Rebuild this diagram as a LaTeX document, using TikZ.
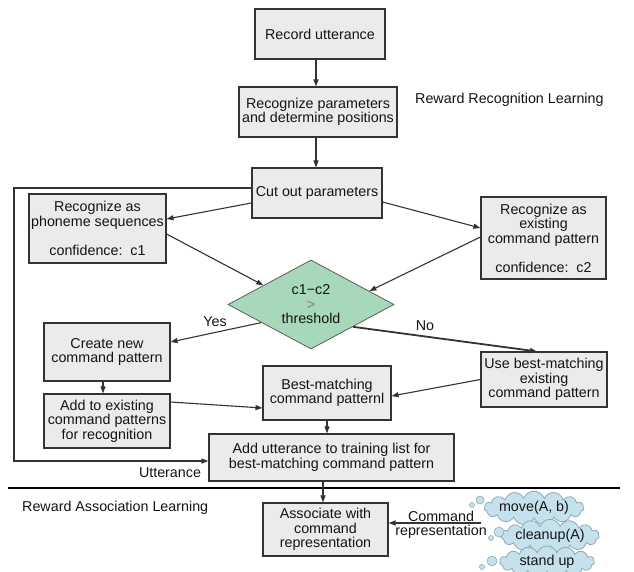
\documentclass[tikz,border=0pt]{standalone}
\usepackage{fontspec}
\setmainfont{Liberation Sans}
\usetikzlibrary{shapes.geometric,shapes.symbols,arrows.meta}
\definecolor{boxfill}{HTML}{EBEBEB}
\definecolor{linec}{HTML}{333333}
\definecolor{txtc}{HTML}{141414}
\definecolor{diafill}{HTML}{A8D8BA}
\definecolor{cloudfill}{HTML}{C5E2EC}
\definecolor{cloudline}{HTML}{8FA9B3}
\begin{document}
\begin{tikzpicture}[x=1pt,y=-1pt,
  font=\fontsize{14.3}{14.5}\selectfont, text=txtc,
  box/.style={draw=linec, fill=boxfill, line width=1.1pt, align=center, inner sep=0pt},
  arr/.style={-{Triangle[length=7pt,width=5pt]}, line width=1.1pt, draw=linec},
  lbl/.style={inner sep=0pt},
  cloudnode/.style={cloud, cloud puffs=15, cloud puff arc=140, aspect=5, draw=cloudline, fill=cloudfill, line width=0.8pt, inner sep=0pt, minimum width=94pt, minimum height=20pt},
  bubble/.style={circle, draw=cloudline, fill=cloudfill, line width=0.6pt, inner sep=0pt}]
\useasboundingbox (0,0) rectangle (634,572);

% boxes
\node[box, minimum width=130pt, minimum height=50pt] (rec) at (320,34) {Record utterance};
\node[box, minimum width=158pt, minimum height=50pt] (par) at (318,112) {Recognize parameters\\and determine positions};
\node[box, minimum width=130pt, minimum height=50pt] (cut) at (317,193) {Cut out parameters};
\node[box, minimum width=137pt, minimum height=69pt] (pho) at (97.5,228.5) {Recognize as\\phoneme sequences\\[14.5pt]confidence:\ \ c1};
\node[box, minimum width=125pt, minimum height=82pt] (exi) at (543.5,238) {Recognize as\\existing\\command pattern\\[14.5pt]confidence:\ \ c2};
\node[diamond, draw=linec!80, fill=diafill, line width=0.8pt, shape aspect=1.9, inner sep=0pt, minimum width=166pt, minimum height=89pt, align=center] (dia) at (311,304.5) {c1−c2\\\textcolor{gray}{>}\\threshold};
\node[box, minimum width=126pt, minimum height=58pt] (new) at (107,352) {Create new\\command pattern};
\node[box, minimum width=126pt, minimum height=54pt] (add) at (107,421) {Add to existing\\command patterns\\for recognition};
\node[box, minimum width=128pt, minimum height=54pt] (best) at (327,393) {Best-matching\\command patternl};
\node[box, minimum width=126pt, minimum height=55pt] (use) at (544,379.5) {Use best-matching\\existing\\command pattern};
\node[box, minimum width=245pt, minimum height=47pt] (utt) at (331.5,457.5) {Add utterance to training list for\\best-matching command pattern};
\node[box, minimum width=125pt, minimum height=53pt] (asc) at (325.5,529.5) {Associate with\\command\\representation};

% texts
\node[lbl, anchor=west] (rrl) at (415,100) {Reward Recognition Learning};
\node[lbl, anchor=west] (ral) at (22,508) {Reward Association Learning};
\node[lbl] (yes) at (215,322) {Yes};
\node[lbl] (no) at (425,326) {No};
\node[lbl] (uttl) at (170,473) {Utterance};
\node[lbl] (cmd) at (441,516) {Command};
\node[lbl] (rep) at (441,532) {representation};

% clouds
\node[cloudnode] (c1) at (534,508) {move(A, b)};
\node[cloudnode] (c2) at (550,536) {cleanup(A)};
\node[cloudnode] (c3) at (547,562) {stand up};
\node[bubble, minimum size=8pt] (b1a) at (480,500) {};
\node[bubble, minimum size=5pt] (b1b) at (472,505) {};
\node[bubble, minimum size=10pt] (b2a) at (499,532) {};
\node[bubble, minimum size=5pt] (b2b) at (491,538) {};
\node[bubble, minimum size=10pt] (b3a) at (492,561) {};
\node[bubble, minimum size=5pt] (b3b) at (482,567) {};

% separator
\coordinate (sepl) at (8,488);
\coordinate (sepr) at (620,488);
\draw[line width=2pt, black] (sepl) -- (sepr);

% connectors
\draw[arr] ([xshift=-4pt]rec.south) -- ([xshift=-2pt]par.north);
\draw[arr] ([xshift=-2pt]par.south) -- ([xshift=-1pt]cut.north);
\draw[arr] ([yshift=-10pt]cut.west) -- ([yshift=9.5pt]pho.east);
\draw[arr] ([yshift=-9pt]cut.east) -- ([yshift=10pt]exi.west);
\draw[arr] ([yshift=-5.5pt]pho.east) -- (dia.158);
\draw[arr] ([yshift=1pt]exi.west) -- (dia.13);
\draw[arr] (dia.200) -- ([yshift=10pt]new.east);
\draw[arr, line width=1.8pt] (dia.-28) -- ([xshift=-7pt]use.north);
\draw[arr] ([xshift=-4pt]new.south) -- ([xshift=-4pt]add.north);
\draw[arr] ([yshift=19pt]add.east) -- ([yshift=-15pt]best.west);
\draw[arr] (use.west) -- ([yshift=-3pt]best.east);
\draw[arr] (best.south) -- ([xshift=-4.5pt]utt.north);
\draw[arr] ([xshift=-8.5pt]utt.south) -- ([xshift=-2.5pt]asc.north);
\coordinate (loopa) at (14,188);
\coordinate (loopb) at (14,461);
\draw[arr, line width=1.4pt] ([yshift=5pt]cut.west) -- (loopa) -- (loopb) -- ([yshift=-3.5pt]utt.west);
\coordinate (cmdstart) at (481,523);
\draw[arr] (cmdstart) -- ([yshift=6.5pt]asc.east);
\end{tikzpicture}
\end{document}
